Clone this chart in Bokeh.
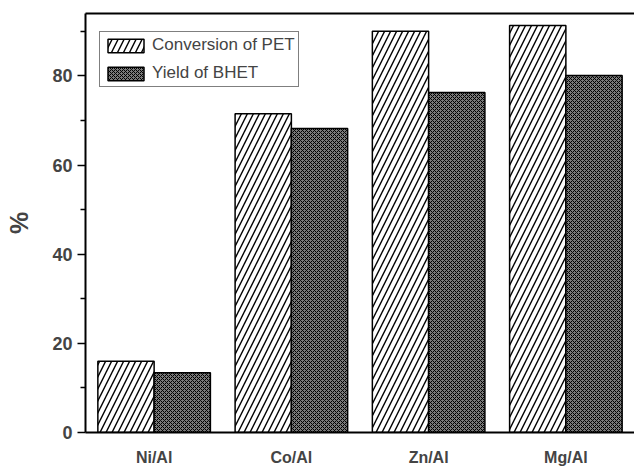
from bokeh.plotting import figure
from bokeh.models import FactorRange, Range1d, LinearAxis, ColumnDataSource, Legend, LegendItem, FixedTicker
from bokeh.transform import dodge
from bokeh.embed import file_html
from bokeh.resources import INLINE

# Catalyst series and their performance (%)
catalysts = ["Ni/Al", "Co/Al", "Zn/Al", "Mg/Al"]
conversion_pet = [16.0, 71.5, 90.0, 91.3]
yield_bhet = [13.4, 68.2, 76.3, 80.1]
y_ticks = [0, 20, 40, 60, 80]

source = ColumnDataSource(data=dict(cat=catalysts, pet=conversion_pet, bhet=yield_bhet))

p = figure(
    x_range=FactorRange(factors=catalysts, range_padding=0),
    y_range=Range1d(0, 94),
    width=634, height=468,
    min_border_left=85, min_border_right=0, min_border_top=13, min_border_bottom=35,
    output_backend="svg", toolbar_location=None,
)
p.outline_line_color = None
p.xgrid.visible = False
p.ygrid.visible = False
p.background_fill_color = "white"

FONT = "Liberation Sans"

pet = p.vbar(x=dodge("cat", -0.205, range=p.x_range), top="pet", width=0.41, source=source,
             fill_color="white", line_color="black", line_width=1.5,
             hatch_pattern="right_diagonal_line", hatch_color="black",
             hatch_scale=12, hatch_weight=1.4)
bhet = p.vbar(x=dodge("cat", 0.205, range=p.x_range), top="bhet", width=0.41, source=source,
              fill_color="#7a7a7a", line_color="black", line_width=1.5,
              hatch_pattern="diagonal_cross", hatch_color="black",
              hatch_scale=4, hatch_weight=1)

# axes
p.yaxis.ticker = FixedTicker(ticks=y_ticks, minor_ticks=[10, 30, 50, 70, 90])
p.yaxis.axis_label = "%"
p.yaxis.axis_label_text_font = FONT
p.yaxis.axis_label_text_font_style = "bold"
p.yaxis.axis_label_text_font_size = "25px"
p.yaxis.axis_label_standoff = 16
p.yaxis.major_label_text_font = FONT
p.yaxis.major_label_text_font_style = "bold"
p.yaxis.major_label_text_font_size = "18px"
p.yaxis.major_label_standoff = 5
p.yaxis.major_tick_out = 8
p.yaxis.major_tick_in = 0
p.yaxis.minor_tick_out = 5
p.yaxis.minor_tick_in = 0
p.yaxis.axis_line_width = 2
p.yaxis.major_tick_line_width = 1.5
p.yaxis.minor_tick_line_width = 1.5

p.xaxis.major_label_text_font = FONT
p.xaxis.major_label_text_font_style = "bold"
p.xaxis.major_label_text_font_size = "16px"
p.xaxis.major_label_standoff = 10
p.xaxis.major_tick_line_color = None
p.xaxis.minor_tick_line_color = None
p.xaxis.axis_line_width = 2

# top border line
top = LinearAxis(ticker=FixedTicker(ticks=[]), major_tick_line_color=None,
                 minor_tick_line_color=None, major_label_standoff=0,
                 major_tick_out=0, minor_tick_out=0, axis_line_width=2)
p.add_layout(top, "above")

legend = Legend(items=[LegendItem(label="Conversion of PET", renderers=[pet]),
                       LegendItem(label="Yield of BHET", renderers=[bhet])],
                location=(14, 345))
legend.glyph_width = 45
legend.glyph_height = 17
legend.label_text_font = FONT
legend.label_text_font_size = "17px"
legend.label_height = 17
legend.label_standoff = 4
legend.spacing = 8
legend.padding = 3
legend.margin = 0
legend.border_line_color = "black"
legend.border_line_width = 1.5
p.add_layout(legend, "center")

open("out.html", "w").write(file_html(p, INLINE))
